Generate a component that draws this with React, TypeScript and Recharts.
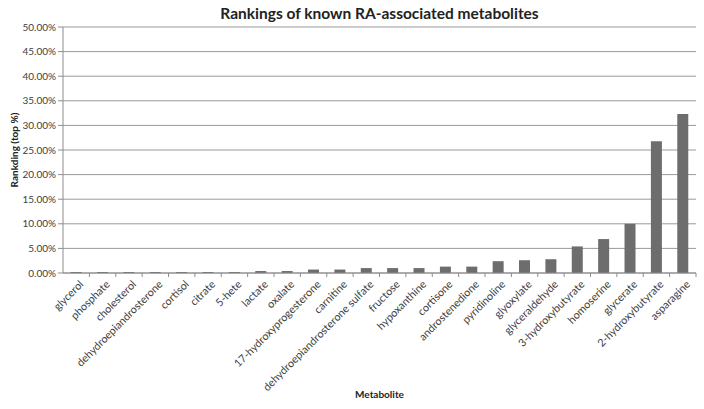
import { Bar, BarChart, CartesianGrid, XAxis, YAxis } from "recharts";

const metabolites = [
  "glycerol", "phosphate", "cholesterol", "dehydroepiandrosterone", "cortisol", "citrate",
  "5-hete", "lactate", "oxalate", "17-hydroxyprogesterone", "carnitine",
  "dehydroepiandrosterone sulfate", "fructose", "hypoxanthine", "cortisone", "androstenedione",
  "pyridinoline", "glyoxylate", "glyceraldehyde", "3-hydroxybutyrate", "homoserine",
  "glycerate", "2-hydroxybutyrate", "asparagine"
];
const ranking = [
  0.2, 0.2, 0.2, 0.2, 0.2, 0.2, 0.2, 0.4, 0.4, 0.7, 0.7, 1.0, 1.0, 1.0, 1.3, 1.3,
  2.4, 2.6, 2.8, 5.4, 6.9, 10.0, 26.8, 32.3
];
const yTicks = [0, 5, 10, 15, 20, 25, 30, 35, 40, 45, 50];

const data = metabolites.map((name, i) => ({ name, value: ranking[i] }));

const W = 704;
const H = 409;
const M = { top: 27, right: 8, left: 0, bottom: 0 };
const Y_W = 63;
const X_H = 136;
const FONT = "Lato, 'Open Sans', sans-serif";
const HALF_BAND = (W - M.right - Y_W) / metabolites.length / 2;

function XTick({ x, y, payload }: any) {
  return (
    <g>
      <line x1={x + HALF_BAND} x2={x + HALF_BAND} y1={y - 8} y2={y - 4} stroke="#8c8c8c" />
      <text
        x={x + 6}
        y={y + 2}
        transform={`rotate(-45, ${x + 6}, ${y + 2})`}
        textAnchor="end"
        dominantBaseline="middle"
        fontSize={10.8}
        fontFamily={FONT}
        fill="#404040"
      >
        {payload.value}
      </text>
    </g>
  );
}

export default function App() {
  return (
    <div style={{ position: "absolute", left: 0, top: 0, width: W, height: H, background: "#fff" }}>
      <BarChart width={W} height={H} data={data} margin={M} barCategoryGap="29%">
        <CartesianGrid vertical={false} stroke="#9a9a9a" />
        <XAxis
          dataKey="name"
          interval={0}
          height={X_H}
          tick={<XTick />}
          tickLine={false}
          axisLine={{ stroke: "#8c8c8c" }}
        />
        <YAxis
          domain={[0, 50]}
          ticks={yTicks}
          width={Y_W}
          tickFormatter={(v: number) => `${v.toFixed(2)}%`}
          tick={{ fontSize: 10, fontFamily: FONT, fill: "#404040" }}
          tickLine={{ stroke: "#8c8c8c" }}
          tickSize={5}
          axisLine={{ stroke: "#8c8c8c" }}
        />
        <Bar dataKey="value" fill="#6d6d6d" isAnimationActive={false} />
      </BarChart>
      <div
        style={{
          position: "absolute",
          top: 4,
          left: Y_W,
          width: W - Y_W - M.right,
          textAlign: "center",
          fontFamily: FONT,
          fontWeight: 700,
          fontSize: 15.5,
          color: "#222",
        }}
      >
        Rankings of known RA-associated metabolites
      </div>
      <div
        style={{
          position: "absolute",
          top: 388,
          left: Y_W,
          width: W - Y_W - M.right,
          textAlign: "center",
          fontFamily: FONT,
          fontWeight: 700,
          fontSize: 10,
          color: "#222",
        }}
      >
        Metabolite
      </div>
      <div
        style={{
          position: "absolute",
          left: 14,
          top: 150,
          transform: "translate(-50%, -50%) rotate(-90deg)",
          whiteSpace: "nowrap",
          fontFamily: FONT,
          fontWeight: 700,
          fontSize: 10,
          color: "#222",
        }}
      >
        Rankding (top %)
      </div>
    </div>
  );
}
